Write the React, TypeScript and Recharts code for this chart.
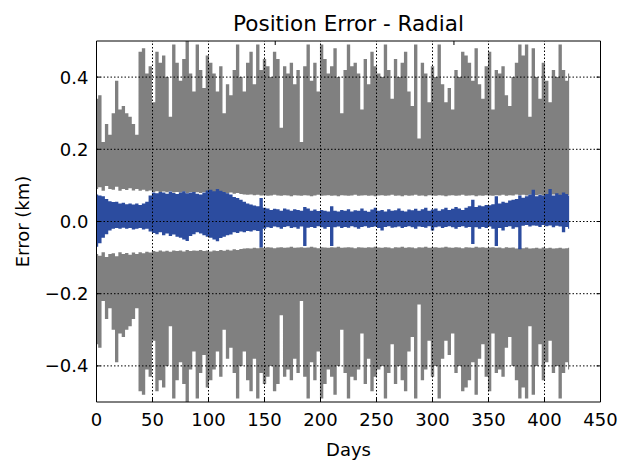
import { ComposedChart, Area, XAxis, YAxis, ReferenceLine } from "recharts";

// sample days (every 3 days, last sample at day 422)
const days = [
  0, 3, 6, 9, 12, 15, 18, 21, 24, 27,
  30, 33, 36, 39, 42, 45, 48, 51, 54, 57,
  60, 63, 66, 69, 72, 75, 78, 81, 84, 87,
  90, 93, 96, 99, 102, 105, 108, 111, 114, 117,
  120, 123, 126, 129, 132, 135, 138, 141, 144, 147,
  150, 153, 156, 159, 162, 165, 168, 171, 174, 177,
  180, 183, 186, 189, 192, 195, 198, 201, 204, 207,
  210, 213, 216, 219, 222, 225, 228, 231, 234, 237,
  240, 243, 246, 249, 252, 255, 258, 261, 264, 267,
  270, 273, 276, 279, 282, 285, 288, 291, 294, 297,
  300, 303, 306, 309, 312, 315, 318, 321, 324, 327,
  330, 333, 336, 339, 342, 345, 348, 351, 354, 357,
  360, 363, 366, 369, 372, 375, 378, 381, 384, 387,
  390, 393, 396, 399, 402, 405, 408, 411, 414, 417,
  420, 422,
];

// outer edge of the gray (covariance) band, km, mirrored for the lower side
const sigmaOuter = [
  0.34, 0.35, 0.22, 0.27, 0.24, 0.3, 0.39, 0.31, 0.32, 0.3,
  0.29, 0.27, 0.24, 0.47, 0.48, 0.41, 0.43, 0.33, 0.47, 0.44,
  0.46, 0.4, 0.29, 0.49, 0.44, 0.39, 0.45, 0.5, 0.41, 0.36,
  0.49, 0.42, 0.37, 0.46, 0.44, 0.41, 0.36, 0.43, 0.3, 0.38,
  0.35, 0.42, 0.49, 0.4, 0.36, 0.44, 0.47, 0.38, 0.49, 0.42,
  0.45, 0.43, 0.4, 0.47, 0.45, 0.26, 0.43, 0.41, 0.44, 0.38,
  0.42, 0.22, 0.43, 0.49, 0.39, 0.44, 0.36, 0.49, 0.45, 0.41,
  0.43, 0.48, 0.4, 0.3, 0.42, 0.49, 0.43, 0.44, 0.41, 0.31,
  0.45, 0.38, 0.47, 0.43, 0.41, 0.4, 0.49, 0.42, 0.34, 0.45,
  0.4, 0.44, 0.47, 0.36, 0.32, 0.49, 0.23, 0.44, 0.41, 0.33,
  0.43, 0.4, 0.49, 0.38, 0.33, 0.37, 0.31, 0.42, 0.4, 0.47,
  0.46, 0.44, 0.39, 0.48, 0.38, 0.34, 0.43, 0.47, 0.31, 0.42,
  0.41, 0.43, 0.35, 0.32, 0.4, 0.44, 0.49, 0.46, 0.49, 0.29,
  0.48, 0.4, 0.34, 0.44, 0.39, 0.33, 0.42, 0.4, 0.49, 0.42,
  0.39, 0.41,
];

// inner edge of the gray band (white gap around the error)
const sigmaInner = [
  0.09, 0.095, 0.085, 0.098, 0.09, 0.088, 0.096, 0.085, 0.09, 0.087,
  0.092, 0.086, 0.09, 0.085, 0.088, 0.084, 0.086, 0.082, 0.084, 0.08,
  0.083, 0.081, 0.084, 0.08, 0.082, 0.08, 0.083, 0.079, 0.082, 0.08,
  0.081, 0.079, 0.082, 0.08, 0.083, 0.08, 0.082, 0.079, 0.081, 0.078,
  0.08, 0.077, 0.079, 0.076, 0.075, 0.074, 0.075, 0.073, 0.074, 0.072,
  0.073, 0.071, 0.072, 0.074, 0.072, 0.071, 0.073, 0.072, 0.07, 0.073,
  0.072, 0.071, 0.073, 0.072, 0.07, 0.072, 0.074, 0.071, 0.072, 0.073,
  0.071, 0.072, 0.07, 0.073, 0.072, 0.071, 0.072, 0.074, 0.071, 0.072,
  0.073, 0.071, 0.072, 0.07, 0.072, 0.073, 0.071, 0.072, 0.074, 0.071,
  0.072, 0.07, 0.073, 0.071, 0.072, 0.074, 0.071, 0.072, 0.07, 0.073,
  0.072, 0.071, 0.073, 0.072, 0.07, 0.072, 0.073, 0.071, 0.072, 0.074,
  0.071, 0.072, 0.073, 0.07, 0.072, 0.071, 0.073, 0.072, 0.071, 0.073,
  0.072, 0.074, 0.071, 0.073, 0.072, 0.075, 0.073, 0.074, 0.072, 0.075,
  0.074, 0.073, 0.075, 0.072, 0.074, 0.073, 0.075, 0.074, 0.073, 0.075,
  0.074, 0.073,
];

// radial error envelope (blue)
const errorHigh = [
  0.075, 0.072, 0.07, 0.062, 0.056, 0.054, 0.055, 0.05, 0.052, 0.048,
  0.05, 0.047, 0.05, 0.046, 0.05, 0.055, 0.072, 0.08, 0.078, 0.082,
  0.08, 0.077, 0.083, 0.079, 0.076, 0.08, 0.084, 0.078, 0.08, 0.082,
  0.077, 0.075, 0.08, 0.086, 0.088, 0.084, 0.09, 0.085, 0.082, 0.078,
  0.075, 0.068, 0.065, 0.06, 0.055, 0.05, 0.047, 0.044, 0.042, 0.065,
  0.038, 0.036, 0.032, 0.035, 0.034, 0.03, 0.036, 0.033, 0.03, 0.034,
  0.032, 0.03, 0.04, 0.036, 0.03, 0.033, 0.029, 0.032, 0.03, 0.028,
  0.042, 0.03, 0.028, 0.032, 0.03, 0.034, 0.028, 0.031, 0.03, 0.036,
  0.03, 0.027, 0.033, 0.038, 0.03, 0.032, 0.028, 0.034, 0.03, 0.031,
  0.036, 0.03, 0.028, 0.033, 0.031, 0.035, 0.03, 0.034, 0.038, 0.03,
  0.033, 0.036, 0.03, 0.034, 0.038, 0.032, 0.035, 0.04, 0.036, 0.032,
  0.038, 0.042, 0.06, 0.04, 0.044, 0.042, 0.046, 0.045, 0.048, 0.07,
  0.05, 0.055, 0.052, 0.058, 0.06, 0.062, 0.072, 0.066, 0.07, 0.075,
  0.088, 0.07, 0.074, 0.072, 0.076, 0.09, 0.072, 0.078, 0.074, 0.08,
  0.076, 0.072,
];

const errorLow = [
  -0.07, -0.06, -0.045, -0.035, -0.025, -0.02, -0.018, -0.02, -0.017, -0.02,
  -0.018, -0.022, -0.02, -0.018, -0.022, -0.02, -0.028, -0.032, -0.035, -0.03,
  -0.038, -0.033, -0.04, -0.036, -0.042, -0.045, -0.05, -0.054, -0.04, -0.035,
  -0.03, -0.033, -0.038, -0.042, -0.045, -0.05, -0.055, -0.046, -0.042, -0.038,
  -0.036, -0.03, -0.032, -0.028, -0.03, -0.026, -0.028, -0.024, -0.026, -0.072,
  -0.02, -0.016, -0.018, -0.014, -0.016, -0.02, -0.015, -0.013, -0.018, -0.016,
  -0.02, -0.014, -0.068, -0.017, -0.015, -0.018, -0.013, -0.016, -0.02, -0.015,
  -0.068, -0.016, -0.014, -0.018, -0.015, -0.017, -0.013, -0.016, -0.02, -0.015,
  -0.013, -0.017, -0.015, -0.014, -0.018, -0.025, -0.015, -0.013, -0.017, -0.016,
  -0.014, -0.018, -0.015, -0.013, -0.016, -0.02, -0.014, -0.015, -0.017, -0.013,
  -0.025, -0.016, -0.014, -0.018, -0.015, -0.013, -0.016, -0.02, -0.015, -0.013,
  -0.017, -0.015, -0.062, -0.016, -0.02, -0.015, -0.018, -0.014, -0.02, -0.068,
  -0.018, -0.025, -0.015, -0.013, -0.02, -0.016, -0.077, -0.012, -0.01, -0.014,
  -0.011, -0.012, -0.015, -0.01, -0.013, -0.011, -0.016, -0.012, -0.014, -0.03,
  -0.015, -0.02,
];

const xTicks = [0, 50, 100, 150, 200, 250, 300, 350, 400, 450];
const yTicks = [-0.4, -0.2, 0, 0.2, 0.4];

const data = days.map((d, i) => ({
  day: d,
  upper: [sigmaInner[i], sigmaOuter[i]],
  lower: [-sigmaOuter[i], -sigmaInner[i]],
  error: [errorLow[i], errorHigh[i]],
}));

const FONT = "DejaVu Sans";
const GRAY = "#808080";
const BLUE = "#2c4c9f";

const fmtY = (v: number) => v.toFixed(1).replace("-", "\u2212");

function BottomTick({ x, y, payload }: any) {
  return (
    <g>
      <line x1={x} x2={x} y1={y} y2={y - 4} stroke="#000" />
      <text x={x} y={y + 24} textAnchor="middle" fontSize={18} fontFamily={FONT} fill="#000">
        {payload.value}
      </text>
    </g>
  );
}

function TopTick({ x, y }: any) {
  return <line x1={x} x2={x} y1={y} y2={y + 4} stroke="#000" />;
}

function LeftTick({ x, y, payload }: any) {
  return (
    <g>
      <line x1={x} x2={x + 4} y1={y} y2={y} stroke="#000" />
      <text x={x - 8} y={y + 6.5} textAnchor="end" fontSize={18} fontFamily={FONT} fill="#000">
        {fmtY(payload.value)}
      </text>
    </g>
  );
}

function RightTick({ x, y }: any) {
  return <line x1={x} x2={x - 4} y1={y} y2={y} stroke="#000" />;
}

export default function App() {
  return (
    <div style={{ position: "absolute", left: 0, top: 0, width: 622, height: 460, background: "#fff" }}>
      <ComposedChart
        width={622}
        height={460}
        data={data}
        margin={{ top: 40, right: 20.5, bottom: 28, left: 36.5 }}
      >
        <XAxis
          xAxisId="b"
          dataKey="day"
          type="number"
          domain={[0, 450]}
          ticks={xTicks}
          interval={0}
          allowDataOverflow
          height={30}
          tickSize={0}
          tickMargin={0}
          tickLine={false}
          tick={BottomTick}
          axisLine={{ stroke: "#000" }}
        />
        <XAxis
          xAxisId="t"
          orientation="top"
          type="number"
          domain={[0, 450]}
          ticks={xTicks}
          interval={0}
          allowDataOverflow
          height={1}
          tickSize={0}
          tickMargin={0}
          tickLine={false}
          tick={TopTick}
          axisLine={{ stroke: "#000" }}
        />
        <YAxis
          yAxisId="l"
          type="number"
          domain={[-0.5, 0.5]}
          ticks={yTicks}
          interval={0}
          allowDataOverflow
          width={60}
          tickSize={0}
          tickMargin={0}
          tickLine={false}
          tick={LeftTick}
          axisLine={{ stroke: "#000" }}
        />
        <YAxis
          yAxisId="r"
          orientation="right"
          type="number"
          domain={[-0.5, 0.5]}
          ticks={yTicks}
          interval={0}
          allowDataOverflow
          width={1}
          tickSize={0}
          tickMargin={0}
          tickLine={false}
          tick={RightTick}
          axisLine={{ stroke: "#000" }}
        />
        <Area
          xAxisId="b"
          yAxisId="l"
          type="step"
          dataKey="upper"
          stroke="none"
          fill={GRAY}
          fillOpacity={1}
          dot={false}
          activeDot={false}
          isAnimationActive={false}
        />
        <Area
          xAxisId="b"
          yAxisId="l"
          type="step"
          dataKey="lower"
          stroke="none"
          fill={GRAY}
          fillOpacity={1}
          dot={false}
          activeDot={false}
          isAnimationActive={false}
        />
        <Area
          xAxisId="b"
          yAxisId="l"
          type="step"
          dataKey="error"
          stroke="none"
          fill={BLUE}
          fillOpacity={1}
          dot={false}
          activeDot={false}
          isAnimationActive={false}
        />
        {xTicks.slice(1, -1).map((t) => (
          <ReferenceLine key={"x" + t} xAxisId="b" yAxisId="l" x={t} stroke="#000" strokeDasharray="1.5 2" />
        ))}
        {yTicks.map((t) => (
          <ReferenceLine key={"y" + t} xAxisId="b" yAxisId="l" y={t} stroke="#000" strokeDasharray="1.5 2" />
        ))}
        <text x={348.5} y={31} textAnchor="middle" fontSize={21.5} fontFamily={FONT} fill="#000">
          Position Error - Radial
        </text>
        <text x={348.5} y={456} textAnchor="middle" fontSize={18} fontFamily={FONT} fill="#000">
          Days
        </text>
        <text
          transform="rotate(-90)"
          x={-221.5}
          y={28.5}
          textAnchor="middle"
          fontSize={18}
          fontFamily={FONT}
          fill="#000"
        >
          Error (km)
        </text>
      </ComposedChart>
    </div>
  );
}
